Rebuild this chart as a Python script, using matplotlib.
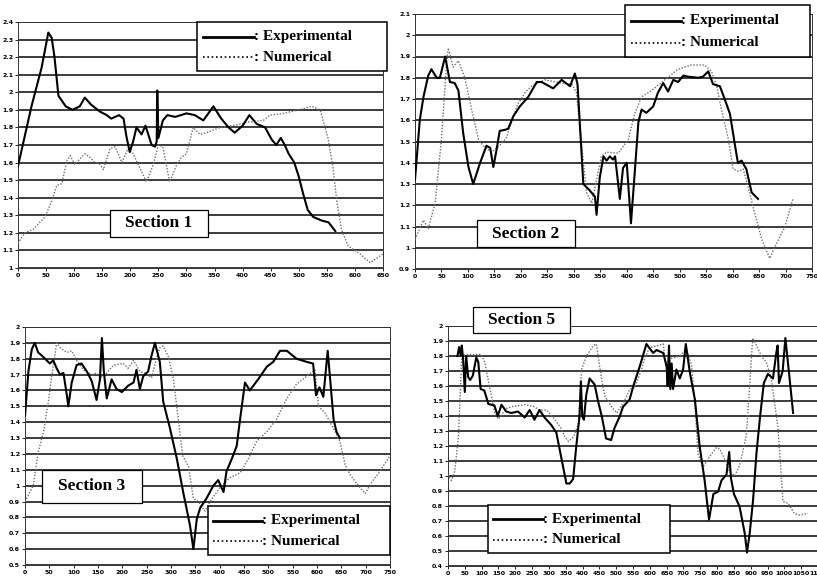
import matplotlib
matplotlib.use("Agg")
import matplotlib.pyplot as plt
from matplotlib.patches import Rectangle
from matplotlib.ticker import MultipleLocator, FuncFormatter

# ---------------- data ----------------
# Section 1
s1_exp_x = [0, 12, 24, 42, 54, 60, 65, 72, 85, 97, 110, 119, 130, 146, 158, 166, 180, 188, 193,
            199, 205, 211, 220, 227, 233, 238, 244, 247, 248, 250, 258, 266, 280, 300, 315, 330,
            348, 362, 375, 386, 400, 412, 425, 440, 452, 460, 468, 475, 482, 492, 500, 508, 516,
            526, 541, 553, 565]
s1_exp_y = [1.58, 1.75, 1.92, 2.14, 2.34, 2.31, 2.20, 1.98, 1.92, 1.90, 1.92, 1.97, 1.93, 1.89,
            1.87, 1.85, 1.87, 1.85, 1.75, 1.66, 1.72, 1.80, 1.76, 1.81, 1.75, 1.70, 1.69, 1.72,
            2.01, 1.74, 1.84, 1.87, 1.86, 1.88, 1.87, 1.84, 1.92, 1.85, 1.80, 1.77, 1.81, 1.87,
            1.82, 1.80, 1.73, 1.70, 1.74, 1.70, 1.65, 1.60, 1.52, 1.42, 1.33, 1.29, 1.27, 1.26,
            1.21]
s1_num_x = [0, 12, 27, 48, 60, 69, 78, 87, 93, 101, 110, 119, 128, 137, 146, 152, 164, 173, 185,
            196, 205, 211, 229, 241, 250, 258, 270, 283, 291, 300, 312, 324, 336, 360, 383, 410,
            437, 449, 473, 500, 523, 538, 552, 561, 568, 576, 588, 609, 627, 650]
s1_num_y = [1.14, 1.20, 1.22, 1.29, 1.38, 1.47, 1.48, 1.61, 1.64, 1.59, 1.62, 1.65, 1.63, 1.60,
            1.59, 1.56, 1.68, 1.69, 1.60, 1.68, 1.65, 1.61, 1.49, 1.59, 1.70, 1.69, 1.49, 1.59,
            1.63, 1.65, 1.80, 1.76, 1.77, 1.80, 1.81, 1.83, 1.84, 1.87, 1.88, 1.90, 1.92, 1.90,
            1.74, 1.57, 1.375, 1.22, 1.125, 1.08, 1.03, 1.08]

# Section 2
s2_exp_x = [0, 9, 16, 25, 31, 41, 47, 57, 66, 75, 82, 91, 101, 110, 123, 135, 142, 148, 154, 160,
            170, 176, 186, 198, 214, 230, 239, 261, 277, 293, 302, 307, 315, 318, 330, 340, 343,
            349, 356, 362, 368, 374, 378, 387, 393, 400, 408, 415, 422, 428, 437, 450, 459, 469,
            478, 488, 497, 507, 516, 535, 544, 554, 563, 576, 585, 595, 604, 610, 617, 626, 636,
            648]
s2_exp_y = [1.32, 1.60, 1.71, 1.81, 1.84, 1.80, 1.80, 1.90, 1.78, 1.775, 1.74, 1.54, 1.38, 1.30,
            1.40, 1.48, 1.47, 1.38, 1.46, 1.55, 1.555, 1.56, 1.62, 1.665, 1.71, 1.78, 1.78, 1.75,
            1.79, 1.76, 1.82, 1.77, 1.43, 1.30, 1.27, 1.24, 1.155, 1.33, 1.43, 1.41, 1.43, 1.415,
            1.43, 1.23, 1.375, 1.40, 1.115, 1.35, 1.59, 1.65, 1.635, 1.665, 1.73, 1.775, 1.735,
            1.79, 1.78, 1.81, 1.805, 1.80, 1.805, 1.83, 1.77, 1.76, 1.70, 1.63, 1.49, 1.40, 1.41,
            1.37, 1.26, 1.23]
s2_num_x = [0, 16, 25, 38, 50, 60, 63, 72, 82, 94, 107, 120, 129, 145, 164, 173, 183, 195, 208,
            220, 245, 277, 296, 305, 315, 324, 334, 343, 352, 362, 384, 403, 415, 428, 447, 472,
            497, 522, 547, 560, 570, 579, 592, 601, 611, 620, 629, 642, 655, 670, 683, 699, 714]
s2_num_y = [1.04, 1.13, 1.09, 1.21, 1.51, 1.88, 1.94, 1.85, 1.88, 1.80, 1.65, 1.51, 1.48, 1.45,
            1.49, 1.52, 1.60, 1.68, 1.73, 1.76, 1.79, 1.775, 1.77, 1.73, 1.48, 1.26, 1.21, 1.32,
            1.43, 1.45, 1.445, 1.51, 1.63, 1.71, 1.74, 1.79, 1.84, 1.86, 1.86, 1.83, 1.76, 1.65,
            1.51, 1.37, 1.36, 1.37, 1.29, 1.16, 1.04, 0.95, 1.02, 1.10, 1.23]

# Section 3
s3_exp_x = [0, 7, 14, 20, 27, 38, 51, 58, 65, 72, 79, 86, 89, 96, 106, 116, 127, 137, 147, 154,
            158, 162, 168, 178, 188, 199, 212, 223, 229, 236, 243, 253, 260, 267, 277, 284, 298,
            312, 325, 339, 346, 353, 360, 373, 387, 397, 408, 414, 425, 435, 442, 452, 462, 479,
            497, 510, 524, 538, 558, 579, 592, 598, 605, 613, 622, 634, 640, 647]
s3_exp_y = [1.44, 1.72, 1.86, 1.90, 1.84, 1.81, 1.77, 1.79, 1.74, 1.70, 1.71, 1.57, 1.50, 1.65,
            1.76, 1.77, 1.72, 1.66, 1.54, 1.67, 1.93, 1.72, 1.55, 1.67, 1.61, 1.59, 1.63, 1.65,
            1.73, 1.61, 1.69, 1.72, 1.82, 1.90, 1.78, 1.53, 1.36, 1.17, 0.96, 0.75, 0.60, 0.79,
            0.86, 0.92, 1.00, 1.035, 0.96, 1.09, 1.17, 1.25, 1.42, 1.65, 1.60, 1.67, 1.75, 1.78,
            1.85, 1.85, 1.80, 1.78, 1.77, 1.57, 1.62, 1.56, 1.85, 1.42, 1.34, 1.30]
s3_num_x = [0, 17, 27, 38, 48, 55, 65, 72, 86, 96, 106, 120, 137, 147, 154, 165, 182, 202, 212,
            223, 236, 250, 260, 271, 277, 284, 295, 305, 315, 324, 336, 346, 356, 370, 380, 401,
            421, 442, 459, 476, 497, 517, 538, 558, 579, 596, 603, 616, 634, 647, 658, 668, 685,
            699, 712, 729, 750]
s3_num_y = [0.90, 1.00, 1.21, 1.34, 1.53, 1.69, 1.90, 1.87, 1.84, 1.85, 1.79, 1.73, 1.70, 1.71,
            1.68, 1.70, 1.76, 1.77, 1.74, 1.79, 1.72, 1.705, 1.68, 1.81, 1.87, 1.88, 1.81, 1.67,
            1.42, 1.19, 1.12, 0.92, 0.90, 0.84, 0.90, 0.99, 1.05, 1.08, 1.17, 1.28, 1.34, 1.42,
            1.55, 1.64, 1.69, 1.73, 1.50, 1.46, 1.36, 1.28, 1.13, 1.07, 1.00, 0.95, 1.02, 1.09,
            1.19]

# Section 5
s5_exp_x = [28, 33, 38, 41, 45, 50, 54, 60, 66, 74, 84, 90, 97, 108, 120, 138, 148, 159, 173,
            188, 208, 228, 243, 257, 272, 287, 307, 322, 337, 352, 362, 372, 381, 391, 395, 399,
            404, 411, 421, 436, 446, 457, 470, 485, 495, 511, 520, 540, 551, 570, 590, 610, 620,
            640, 650, 653, 657, 661, 665, 669, 679, 689, 699, 707, 719, 734, 748, 763, 776, 789,
            803, 813, 828, 836, 841, 850, 867, 882, 889, 897, 907, 917, 927, 939, 951, 966, 976,
            980, 984, 995, 1003, 1016, 1026]
s5_exp_y = [1.80, 1.86, 1.80, 1.87, 1.78, 1.56, 1.80, 1.66, 1.64, 1.67, 1.79, 1.76, 1.58, 1.57,
            1.48, 1.47, 1.40, 1.475, 1.43, 1.42, 1.43, 1.39, 1.44, 1.375, 1.44, 1.39, 1.34, 1.29,
            1.12, 0.95, 0.95, 0.98, 1.19, 1.40, 1.63, 1.40, 1.375, 1.54, 1.65, 1.61, 1.50, 1.40,
            1.25, 1.24, 1.32, 1.40, 1.46, 1.51, 1.60, 1.73, 1.88, 1.82, 1.84, 1.82, 1.73, 1.60,
            1.87, 1.58, 1.75, 1.58, 1.71, 1.65, 1.71, 1.88, 1.69, 1.51, 1.20, 0.97, 0.71, 0.88,
            0.895, 0.97, 1.01, 1.16, 0.99, 0.88, 0.795, 0.62, 0.49, 0.62, 0.84, 1.15, 1.38, 1.62,
            1.68, 1.65, 1.82, 1.87, 1.62, 1.70, 1.92, 1.64, 1.42]
s5_num_x = [0, 10, 20, 31, 41, 54, 75, 99, 109, 125, 139, 149, 174, 194, 228, 253, 273, 293,
            318, 333, 348, 358, 373, 388, 397, 412, 432, 441, 457, 467, 487, 502, 522, 541, 555,
            574, 584, 599, 624, 640, 648, 655, 689, 709, 724, 734, 743, 758, 778, 798, 808, 823,
            837, 852, 867, 887, 906, 917, 932, 947, 961, 981, 996, 1010, 1030, 1045, 1070]
s5_num_y = [1.01, 0.97, 1.03, 1.26, 1.80, 1.81, 1.81, 1.81, 1.76, 1.58, 1.42, 1.38, 1.45, 1.465,
            1.475, 1.465, 1.44, 1.44, 1.375, 1.33, 1.26, 1.23, 1.26, 1.35, 1.71, 1.80, 1.87, 1.88,
            1.64, 1.53, 1.46, 1.42, 1.49, 1.58, 1.59, 1.70, 1.78, 1.855, 1.87, 1.88, 1.73, 1.78,
            1.80, 1.85, 1.74, 1.49, 1.15, 1.06, 1.13, 1.19, 1.18, 1.11, 1.03, 1.00, 1.07, 1.27,
            1.92, 1.87, 1.80, 1.755, 1.65, 1.32, 0.83, 0.82, 0.75, 0.74, 0.75]

W, H = 817, 577
SERIF = ["Liberation Serif", "DejaVu Serif"]

fig = plt.figure(figsize=(W / 100, H / 100), dpi=100)
fig.patch.set_facecolor("white")


def px_axes(left, right, top, bottom):
    return fig.add_axes([left / W, 1 - bottom / H, (right - left) / W, (bottom - top) / H])


def setup(ax, xmax, xstep, ymin, ymax):
    ax.set_xlim(0, xmax)
    ax.set_ylim(ymin, ymax)
    ax.xaxis.set_major_locator(MultipleLocator(xstep))
    ax.yaxis.set_major_locator(MultipleLocator(0.1))
    ax.yaxis.set_major_formatter(FuncFormatter(lambda v, p: f"{v:g}"))
    ax.xaxis.set_major_formatter(FuncFormatter(lambda v, p: f"{v:g}"))
    ax.tick_params(labelsize=4.5, length=2, width=0.6, pad=1.5, direction="out")
    for lab in ax.get_xticklabels() + ax.get_yticklabels():
        lab.set_fontweight("bold")
    ax.grid(axis="y", color="#1a1a1a", lw=1.2)
    ax.set_axisbelow(True)
    for s in ax.spines.values():
        s.set_linewidth(0.7)
        s.set_color("#333333")


def section_box(ax, x0, y0, x1, y1, label):
    ax.add_patch(Rectangle((x0, y0), x1 - x0, y1 - y0, transform=ax.transAxes, fc="white",
                           ec="black", lw=0.9, zorder=5, clip_on=False))
    ax.text((x0 + x1) / 2, (y0 + y1) / 2, label, transform=ax.transAxes, ha="center",
            va="center", fontsize=12.5, fontweight="bold", family=SERIF, zorder=6)


def legend_box(ax, x0, y0, x1, y1):
    ax.add_patch(Rectangle((x0, y0), x1 - x0, y1 - y0, transform=ax.transAxes, fc="white",
                           ec="black", lw=1.1, zorder=5, clip_on=False))
    w, h = x1 - x0, y1 - y0
    lx0, lx1 = x0 + 0.03 * w, x0 + 0.30 * w
    ya, yb = y0 + 0.70 * h, y0 + 0.28 * h
    ax.plot([lx0, lx1], [ya, ya], transform=ax.transAxes, color="black", lw=2.0, zorder=6,
            clip_on=False)
    ax.plot([lx0, lx1], [yb, yb], transform=ax.transAxes, color="black", lw=1.2, ls=(0, (1, 1.6)),
            zorder=6, clip_on=False)
    for yy, txt in [(ya, ": Experimental"), (yb, ": Numerical")]:
        ax.text(lx1, yy, txt, transform=ax.transAxes, ha="left", va="center", fontsize=11,
                fontweight="bold", family=SERIF, zorder=6)


def curves(ax, ex, ey, nx, ny):
    ax.plot(nx, ny, color="#6e6e6e", lw=1.0, ls=(0, (1, 1.2)), zorder=3)
    ax.plot(ex, ey, color="black", lw=1.5, zorder=4)


ax1 = px_axes(18, 383, 22, 268)
setup(ax1, 650, 50, 1.0, 2.4)
curves(ax1, s1_exp_x, s1_exp_y, s1_num_x, s1_num_y)
legend_box(ax1, 0.49, 0.80, 1.01, 1.0)
section_box(ax1, 0.252, 0.126, 0.52, 0.236, "Section 1")

ax2 = px_axes(415, 812, 14, 269)
setup(ax2, 750, 50, 0.9, 2.1)
curves(ax2, s2_exp_x, s2_exp_y, s2_num_x, s2_num_y)
legend_box(ax2, 0.529, 0.831, 0.995, 1.035)
section_box(ax2, 0.156, 0.086, 0.403, 0.192, "Section 2")

ax3 = px_axes(25, 390, 327, 565)
setup(ax3, 750, 50, 0.5, 2.0)
curves(ax3, s3_exp_x, s3_exp_y, s3_num_x, s3_num_y)
legend_box(ax3, 0.50, 0.042, 1.0, 0.248)
section_box(ax3, 0.047, 0.26, 0.32, 0.40, "Section 3")

ax4 = px_axes(448, 818, 326, 566)
setup(ax4, 1100, 50, 0.4, 2.0)
curves(ax4, s5_exp_x, s5_exp_y, s5_num_x, s5_num_y)
legend_box(ax4, 0.108, 0.054, 0.60, 0.255)
section_box(ax4, 0.068, 0.97, 0.33, 1.08, "Section 5")

fig.savefig("out.png", dpi=100)
